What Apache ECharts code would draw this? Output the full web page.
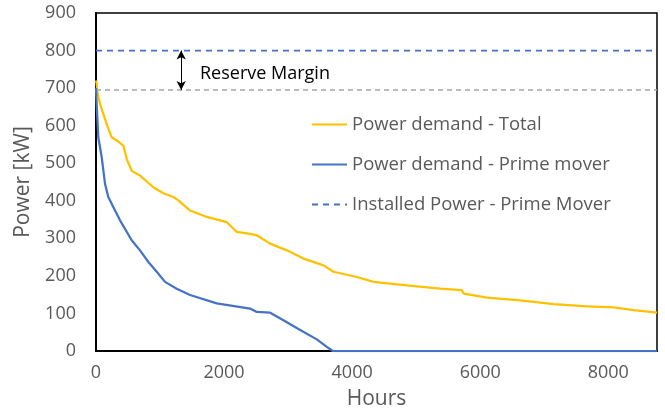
<!DOCTYPE html>
<html>
<head>
<meta charset="utf-8">
<script src="https://cdn.jsdelivr.net/npm/echarts@6/dist/echarts.min.js"></script>
<style>
  html, body { margin: 0; padding: 0; background: #fff; }
  #chart { width: 665px; height: 415px; }
</style>
</head>
<body>
<div id="chart"></div>
<script>
// load duration curves (hours sorted by demand)
var totalHours = [0, 10, 20, 62, 115, 167, 245, 330, 427, 480, 557, 687, 895, 1050, 1208, 1286, 1469, 1730, 2042, 2198, 2406, 2510, 2719, 2979, 3240, 3552, 3708, 4073, 4333, 4854, 5375, 5714, 5740, 6104, 6625, 7146, 7667, 8083, 8396, 8760];
var totalPower = [720, 712, 691, 658, 631, 604, 569, 560, 547, 511, 480, 467, 436, 420, 410, 401, 374, 357, 343, 317, 312, 308, 286, 268, 246, 228, 211, 197, 184, 175, 166, 162, 153, 142, 135, 125, 119, 116, 109, 102];

var primeHours = [0, 15, 36, 89, 141, 192, 297, 375, 557, 687, 818, 948, 1078, 1260, 1469, 1885, 2406, 2510, 2719, 2927, 3188, 3448, 3604, 3698, 8760];
var primePower = [700, 640, 569, 516, 445, 410, 374, 348, 295, 268, 237, 211, 184, 166, 149, 127, 113, 104, 102, 82, 56, 31, 11, 0, 0];

var installedPower = 800;
var peakLevel = 695;
var yearHours = 8760;
var arrowHour = 1330;

var seriesNames = ['Power demand - Total', 'Power demand - Prime mover', 'Installed Power - Prime Mover'];

function pairs(xs, ys) {
    return xs.map(function (x, i) { return [x, ys[i]]; });
}

var myChart = echarts.init(document.getElementById('chart'));
var font = '"Open Sans", sans-serif';

option = {
    animation: false,
    grid: {
        left: 96,
        right: 8,
        top: 13,
        bottom: 64,
        show: true,
        borderColor: '#000',
        borderWidth: 1.5
    },
    legend: {
        data: seriesNames,
        orient: 'vertical',
        left: 306,
        top: 110,
        itemWidth: 35,
        itemHeight: 14,
        itemGap: 21,
        itemStyle: { opacity: 0 },
        textStyle: {
            fontFamily: font,
            fontSize: 18.5,
            color: '#595959'
        }
    },
    xAxis: {
        type: 'value',
        min: 0,
        max: yearHours,
        interval: 2000,
        name: 'Hours',
        nameLocation: 'middle',
        nameGap: 38,
        nameTextStyle: { fontFamily: font, fontSize: 21, color: '#595959' },
        axisLine: { lineStyle: { color: '#000', width: 2 } },
        axisTick: { show: false },
        splitLine: { show: false },
        axisLabel: {
            showMaxLabel: false,
            margin: 13,
            formatter: function (v) { return String(v); },
            fontFamily: font,
            fontSize: 18,
            color: '#595959'
        }
    },
    yAxis: {
        type: 'value',
        min: 0,
        max: 900,
        interval: 100,
        name: 'Power [kW]',
        nameLocation: 'middle',
        nameGap: 62,
        nameTextStyle: { fontFamily: font, fontSize: 21, color: '#595959' },
        axisLine: { show: true, lineStyle: { color: '#000', width: 2 } },
        axisTick: { show: false },
        splitLine: { show: false },
        axisLabel: {
            margin: 20,
            fontFamily: font,
            fontSize: 18,
            color: '#595959'
        }
    },
    series: [
        {
            name: 'peak',
            type: 'line',
            symbol: 'none',
            data: [[0, peakLevel], [yearHours, peakLevel]],
            lineStyle: { color: '#A5A5A5', width: 1.5, type: [5, 4] },
            markLine: {
                silent: true,
                symbol: ['arrow', 'arrow'],
                symbolSize: [7, 9],
                label: { show: false },
                lineStyle: { color: '#000', width: 1, type: 'solid' },
                data: [[{ coord: [arrowHour, installedPower] }, { coord: [arrowHour, peakLevel] }]]
            }
        },
        {
            name: seriesNames[0],
            type: 'line',
            symbol: 'none',
            data: pairs(totalHours, totalPower),
            itemStyle: { color: '#FFC000' },
            lineStyle: { color: '#FFC000', width: 2.25 }
        },
        {
            name: seriesNames[1],
            type: 'line',
            symbol: 'none',
            data: pairs(primeHours, primePower),
            itemStyle: { color: '#4472C4' },
            lineStyle: { color: '#4472C4', width: 2.25 }
        },
        {
            name: seriesNames[2],
            type: 'line',
            symbol: 'none',
            data: [[0, installedPower], [yearHours, installedPower]],
            itemStyle: { color: '#4472C4' },
            lineStyle: { color: '#4472C4', width: 1.75, type: [6, 5] }
        }
    ],
    graphic: [
        {
            type: 'text',
            x: 200,
            y: 74,
            style: {
                text: 'Reserve Margin',
                font: '18px "Open Sans", sans-serif',
                fill: '#000',
                verticalAlign: 'middle'
            }
        }
    ]
};
myChart.setOption(option);
</script>
</body>
</html>
